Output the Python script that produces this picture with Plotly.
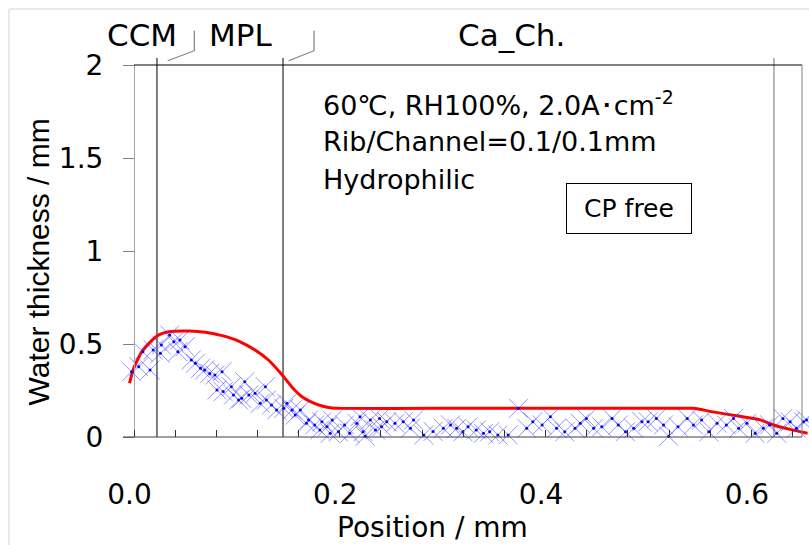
import plotly.graph_objects as go

# ---------------- data ----------------
exp_x = [0.002, 0.009, 0.013, 0.020, 0.023, 0.030, 0.031, 0.039, 0.043, 0.047, 0.049,
         0.054, 0.060, 0.064, 0.069, 0.073, 0.078, 0.083, 0.085, 0.090, 0.091, 0.099,
         0.101, 0.106, 0.109, 0.112, 0.116, 0.122, 0.127, 0.132, 0.133, 0.138, 0.143,
         0.150, 0.153, 0.158, 0.161,
         0.166, 0.172, 0.174, 0.180, 0.185, 0.187, 0.192, 0.195, 0.197, 0.203, 0.209,
         0.214, 0.221, 0.224, 0.227, 0.229, 0.234, 0.239, 0.243, 0.245, 0.250, 0.258,
         0.266, 0.273, 0.276, 0.286, 0.295, 0.305, 0.312, 0.318, 0.324, 0.329,
         0.337, 0.344, 0.350, 0.358, 0.368, 0.378, 0.386, 0.392, 0.401, 0.409, 0.415,
         0.423, 0.433, 0.438, 0.444, 0.451, 0.459, 0.469, 0.475, 0.482, 0.490,
         0.498, 0.504, 0.512, 0.519, 0.524, 0.533, 0.542, 0.548, 0.556, 0.563, 0.571,
         0.580, 0.587, 0.592, 0.600, 0.608, 0.616, 0.622, 0.629, 0.635, 0.642, 0.648,
         0.655, 0.658]
exp_y = [0.351, 0.378, 0.459, 0.360, 0.468, 0.450, 0.495, 0.548, 0.512, 0.459, 0.522,
         0.485, 0.414, 0.396, 0.369, 0.360, 0.342, 0.333, 0.253, 0.351, 0.244, 0.270,
         0.226, 0.199, 0.208, 0.297, 0.226, 0.235, 0.181, 0.270, 0.199, 0.172, 0.145,
         0.154, 0.181, 0.145, 0.118,
         0.145, 0.074, 0.091, 0.065, 0.038, 0.082, 0.055, 0.020, 0.091, 0.028, 0.065,
         0.020, 0.074, 0.109, 0.028, 0.004, 0.091, 0.038, 0.100, 0.055, 0.082, 0.074,
         0.082, 0.047, 0.091, 0.011, 0.030, 0.047, 0.065, 0.047, 0.028, 0.055,
         0.038, 0.020, 0.028, 0.011, 0.011, 0.154, 0.047, 0.082, 0.065, 0.109, 0.047,
         0.028, 0.047, 0.074, 0.100, 0.047, 0.055, 0.100, 0.065, 0.028, 0.047,
         0.082, 0.082, 0.100, 0.065, 0.004, 0.055, 0.100, 0.065, 0.091, 0.028, 0.074,
         0.065, 0.100, 0.047, 0.074, 0.020, 0.047, 0.065, 0.020, 0.100, 0.082, 0.047,
         0.082, 0.091]

model_x = [0.000, 0.004, 0.012, 0.022, 0.028, 0.038, 0.058, 0.074, 0.090, 0.106,
           0.122, 0.135, 0.148, 0.158, 0.168, 0.178, 0.188, 0.197, 0.205, 0.300,
           0.400, 0.500, 0.548, 0.567, 0.593, 0.613, 0.625, 0.642, 0.659]
model_y = [0.289, 0.369, 0.459, 0.521, 0.548, 0.566, 0.570, 0.563, 0.545, 0.516,
           0.468, 0.414, 0.336, 0.268, 0.215, 0.185, 0.165, 0.156, 0.154, 0.154,
           0.154, 0.154, 0.154, 0.135, 0.111, 0.092, 0.066, 0.041, 0.020]

layer_edges = [0.0267, 0.1492, 0.6263]      # CCM | MPL | Ca_Ch. boundaries (mm)
layer_labels = ["CCM", "MPL", "Ca_Ch."]

x_tick_vals = [0.0, 0.2, 0.4, 0.6]
x_tick_text = ["0.0", "0.2", "0.4", "0.6"]
y_tick_vals = [0, 0.5, 1, 1.5, 2]
y_tick_text = ["0", "0.5", "1", "1.5", "2"]

cond_lines = ["60℃, RH100%, 2.0A･cm<sup>-2</sup>",
              "Rib/Channel=0.1/0.1mm",
              "Hydrophilic"]

# ---------------- geometry helpers ----------------
W, H = 809, 545
L, R, T, B = 127, 0, 65, 108
PW, PH = W - L - R, H - T - B
XPX_PER_MM = 1029.0
X0_PX = 129.5
x_range = [(L - X0_PX) / XPX_PER_MM, (W - R - X0_PX) / XPX_PER_MM]


def px(xp):
    return (xp - L) / PW


def py(yp):
    return (H - B - yp) / PH


FONT = "DejaVu Sans"

fig = go.Figure()

fig.add_trace(go.Scatter(
    x=model_x, y=model_y, mode="lines",
    line=dict(color="#ff0000", width=3, shape="spline", smoothing=0.5),
    showlegend=False, hoverinfo="skip"))

fig.add_trace(go.Scatter(
    x=exp_x, y=exp_y, mode="markers",
    marker=dict(symbol="x-thin", size=19, color="rgba(60,60,255,0.55)",
                line=dict(color="rgba(60,60,255,0.55)", width=1)),
    cliponaxis=False, showlegend=False))

fig.add_trace(go.Scatter(
    x=exp_x, y=exp_y, mode="markers",
    marker=dict(symbol="circle", size=3, color="#0000ff"),
    cliponaxis=False, showlegend=False, hoverinfo="skip"))

shapes = []
# outer light frame
shapes.append(dict(type="rect", xref="paper", yref="paper",
                   x0=px(9), x1=px(W + 20), y0=py(H + 20), y1=py(9),
                   line=dict(color="#d4d4d4", width=1), layer="below"))
# top border
shapes.append(dict(type="line", xref="paper", yref="paper",
                   x0=px(134), x1=px(802), y0=py(65), y1=py(65),
                   line=dict(color="#000000", width=1)))
# bottom axis line
shapes.append(dict(type="line", xref="paper", yref="paper",
                   x0=px(123), x1=px(802), y0=py(437), y1=py(437),
                   line=dict(color="#404040", width=1.2)))
# right border
shapes.append(dict(type="line", xref="paper", yref="paper",
                   x0=px(802), x1=px(802), y0=py(437), y1=py(65),
                   line=dict(color="#808080", width=1)))
# layer boundaries
for i, xe in enumerate(layer_edges):
    shapes.append(dict(type="line", xref="x", yref="paper",
                       x0=xe, x1=xe, y0=py(437), y1=py(58),
                       line=dict(color="#000000" if i < 2 else "#6e6e6e", width=1),
                       layer="below"))
# bracket leaders
for (a, b) in [(167.7, 194.3), (288.7, 314.0)]:
    shapes.append(dict(type="path", xref="paper", yref="paper",
                       path=f"M {px(a)} {py(60.7)} L {px(b)} {py(50.7)} L {px(b)} {py(30.7)}",
                       line=dict(color="#808080", width=1.2)))

annotations = []
for lab, cx in zip(layer_labels, [142, 240, 511]):
    annotations.append(dict(text=lab, xref="paper", yref="paper",
                            x=px(cx), y=py(35), xanchor="center", yanchor="middle",
                            showarrow=False, font=dict(family=FONT, size=31, color="#000")))
for line, cy in zip(cond_lines, [103, 141, 179]):
    annotations.append(dict(text=line, xref="paper", yref="paper",
                            x=px(321), y=py(cy), xanchor="left", yanchor="middle",
                            showarrow=False, font=dict(family=FONT, size=27, color="#000")))
annotations.append(dict(text="CP free", xref="paper", yref="paper",
                        x=px(629), y=py(208.5), xanchor="center", yanchor="middle",
                        showarrow=False, width=124, height=49, borderpad=0,
                        bordercolor="#000", borderwidth=1, bgcolor="#fff",
                        font=dict(family=FONT, size=25, color="#000")))
# axis titles
annotations.append(dict(text="Position / mm", xref="paper", yref="paper",
                        x=px(432), y=py(527), xanchor="center", yanchor="middle",
                        showarrow=False, font=dict(family=FONT, size=28, color="#000")))
annotations.append(dict(text="Water thickness / mm", xref="paper", yref="paper",
                        x=px(37.5), y=py(262), xanchor="center", yanchor="middle",
                        textangle=-90, showarrow=False,
                        font=dict(family="Liberation Sans", size=30, color="#000")))

fig.update_layout(
    width=W, height=H,
    margin=dict(l=L, r=R, t=T, b=B, pad=0),
    paper_bgcolor="#ffffff", plot_bgcolor="#ffffff",
    shapes=shapes, annotations=annotations,
    xaxis=dict(range=x_range, showgrid=False, zeroline=False, showline=False,
               tickmode="array", tickvals=x_tick_vals, ticktext=x_tick_text,
               ticks="", ticklabelstandoff=38,
               tickfont=dict(family=FONT, size=28, color="#000"),
               minor=dict(ticks="inside", ticklen=7, tickcolor="#333333", tickwidth=1,
                          tickmode="linear", tick0=(134 - X0_PX) / XPX_PER_MM, dtick=0.04,
                          showgrid=False)),
    yaxis=dict(range=[0, 2], showgrid=False, zeroline=False,
               anchor="free", position=px(134),
               showline=True, linecolor="#a8a8a8", linewidth=1,
               tickmode="array", tickvals=y_tick_vals, ticktext=y_tick_text,
               ticks="outside", ticklen=11, tickcolor="#808080", tickwidth=1,
               ticklabelstandoff=14,
               tickfont=dict(family=FONT, size=28, color="#000")),
    showlegend=False,
)

fig.write_html("out.html")
